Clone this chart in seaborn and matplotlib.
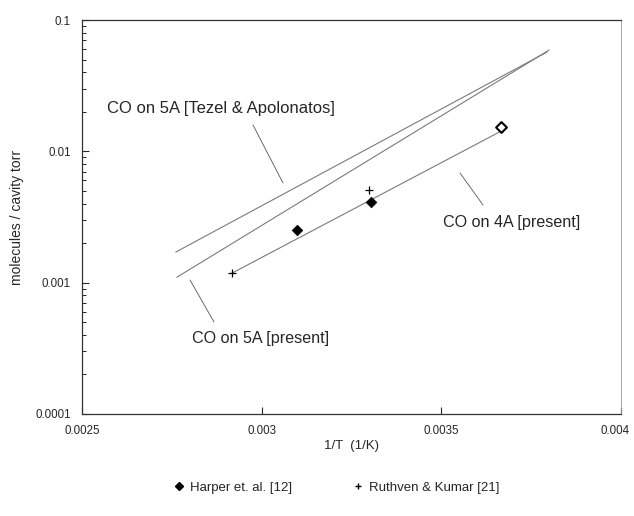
import matplotlib
matplotlib.use("Agg")
import matplotlib.pyplot as plt
import matplotlib.transforms as mtransforms
import seaborn as sns
import numpy as np
import pandas as pd
from matplotlib.ticker import LogLocator, FixedLocator, NullFormatter, FixedFormatter
from matplotlib.lines import Line2D

# ---- data ----
tezel_x = [0.002761, 0.003794]
tezel_y = [0.00171, 0.0570]
co5a_x = [0.002764, 0.003800]
co5a_y = [0.00110, 0.0591]
co4a_x = [0.002917, 0.003661]
co4a_y = [0.00118, 0.0140]

harper_x = [0.003097, 0.003303]
harper_y = [0.00252, 0.00411]
harper_open_x = [0.003667]
harper_open_y = [0.0153]
ruthven_x = [0.002917, 0.003300]
ruthven_y = [0.00118, 0.00507]

x_ticks = [0.0025, 0.003, 0.0035, 0.004]
x_tick_labels = ["0.0025", "0.003", "0.0035", "0.004"]
y_ticks = [0.0001, 0.001, 0.01, 0.1]
y_tick_labels = ["0.0001", "0.001", "0.01", "0.1"]

W, H = 634, 516
sns.set_style("white")
plt.rcParams["font.family"] = ["Liberation Sans", "DejaVu Sans"]

fig = plt.figure(figsize=(W / 100, H / 100), dpi=100)
ax = fig.add_axes([82 / W, 1 - 414 / H, (621 - 82) / W, (414 - 20) / H])

line_df = pd.concat([
    pd.DataFrame({"x": tezel_x, "y": tezel_y, "s": "tezel"}),
    pd.DataFrame({"x": co5a_x, "y": co5a_y, "s": "co5a"}),
    pd.DataFrame({"x": co4a_x, "y": co4a_y, "s": "co4a"}),
])
sns.lineplot(data=line_df, x="x", y="y", units="s", estimator=None,
             color="#7a7a7a", lw=0.8, ax=ax, legend=False)

sns.scatterplot(x=harper_x, y=harper_y, marker="D", s=30, color="black",
                edgecolor="black", ax=ax, zorder=5)
sns.scatterplot(x=harper_open_x, y=harper_open_y, marker="D", s=30,
                facecolor="white", edgecolor="black", linewidth=1.5, ax=ax, zorder=5)
sns.scatterplot(x=ruthven_x, y=ruthven_y, marker="+", s=35, color="black",
                linewidth=0.9, ax=ax, zorder=5)

ax.set_yscale("log")
ax.set_xlim(0.0025, 0.004)
ax.set_ylim(0.0001, 0.1)

ax.xaxis.set_major_locator(FixedLocator(x_ticks))
ax.xaxis.set_major_formatter(FixedFormatter(x_tick_labels))
ax.yaxis.set_major_locator(FixedLocator(y_ticks))
ax.yaxis.set_major_formatter(FixedFormatter(y_tick_labels))
ax.yaxis.set_minor_locator(LogLocator(base=10, subs=np.arange(2, 10)))
ax.yaxis.set_minor_formatter(NullFormatter())
ax.tick_params(axis="both", which="major", direction="in", length=5, width=0.8,
               labelsize=8.3, left=True, bottom=True, pad=8)
ax.tick_params(axis="y", which="minor", direction="in", length=3, width=0.7, left=True)

for sp in ax.spines.values():
    sp.set_color("#333333")
    sp.set_linewidth(0.9)
ax.spines["right"].set_color("#999999")
ax.spines["right"].set_linewidth(0.6)

ax.set_xlabel("1/T  (1/K)", fontsize=9.5, labelpad=2)
ax.set_ylabel("molecules / cavity torr", fontsize=10, labelpad=8)

# nudge last x tick label inwards so it stays inside the figure
fig.canvas.draw()
last = ax.get_xticklabels()[-1]
last.set_transform(last.get_transform() +
                   mtransforms.ScaledTranslation(-6 / 100, 0, fig.dpi_scale_trans))

def fpt(px, py):
    return (px / W, 1 - py / H)

lead = dict(arrowstyle="-", color="#555555", lw=0.6, shrinkA=0, shrinkB=0)
# leader lines
ax.annotate("", xy=fpt(283, 183), xytext=fpt(253, 125), xycoords="figure fraction",
            textcoords="figure fraction", arrowprops=lead)
ax.annotate("", xy=fpt(460, 173), xytext=fpt(483, 205), xycoords="figure fraction",
            textcoords="figure fraction", arrowprops=lead)
ax.annotate("", xy=fpt(190, 280), xytext=fpt(214, 322), xycoords="figure fraction",
            textcoords="figure fraction", arrowprops=lead)
# labels
fig.text(*fpt(107, 108), "CO on 5A [Tezel & Apolonatos]", fontsize=12,
         ha="left", va="center")
fig.text(*fpt(443, 223), "CO on 4A [present]", fontsize=11.6, ha="left", va="center")
fig.text(*fpt(192, 338), "CO on 5A [present]", fontsize=11.6, ha="left", va="center")

handles = [
    Line2D([], [], marker="D", color="black", ls="none", markersize=4.5),
    Line2D([], [], marker="+", color="black", ls="none", markersize=5),
]
fig.legend(handles, ["Harper et. al. [12]", "Ruthven & Kumar [21]"],
           loc="center", bbox_to_anchor=(0.53, 0.055), ncol=2, frameon=False,
           fontsize=9.5, handletextpad=0.3, columnspacing=4.5, handlelength=1)

fig.savefig("out.png", dpi=100)
